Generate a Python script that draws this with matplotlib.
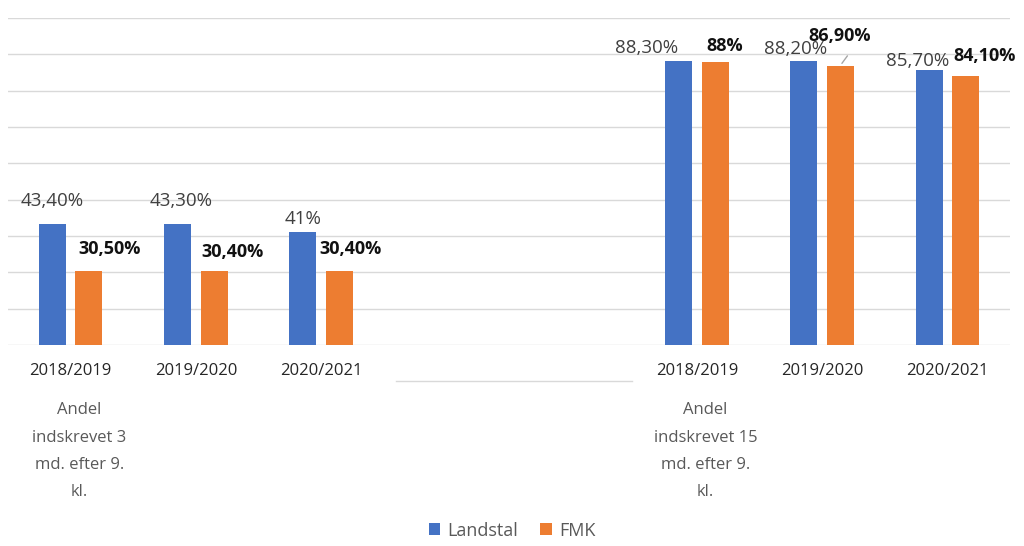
import matplotlib
matplotlib.use("Agg")
import matplotlib.pyplot as plt
import numpy as np

# ---- data ----
years = ["2018/2019", "2019/2020", "2020/2021"]
group_labels = ["Andel\nindskrevet 3\nmd. efter 9.\nkl.",
                "Andel\nindskrevet 15\nmd. efter 9.\nkl."]
landstal_3md = [43.4, 43.3, 41.0]
fmk_3md = [30.5, 30.4, 30.4]
landstal_15md = [88.3, 88.2, 85.7]
fmk_15md = [88.0, 86.9, 84.1]
series_names = ["Landstal", "FMK"]

# ---- style ----
BLUE = "#4472C4"
ORANGE = "#ED7D31"
GRID = "#D9D9D9"
plt.rcParams["font.family"] = ["Open Sans", "DejaVu Sans"]

def fmt(v):
    if abs(v - round(v)) < 1e-9:
        return f"{int(round(v))}%"
    return f"{v:.2f}".replace(".", ",") + "%"

fig = plt.figure(figsize=(10.24, 5.46), dpi=100)
ax = fig.add_axes([8/1024, 1 - 345/546, 1002/1024, 327/546])

ymin, ymax = 10, 100
gap = 2  # empty category slots between the two groups
pos1 = np.arange(len(years))
pos2 = np.arange(len(years)) + len(years) + gap
positions = np.concatenate([pos1, pos2])
land = np.array(landstal_3md + landstal_15md)
fmk = np.array(fmk_3md + fmk_15md)

w = 0.215
off = 0.145
ax.bar(positions - off, land - ymin, w, bottom=ymin, color=BLUE, label=series_names[0], zorder=3)
ax.bar(positions + off, fmk - ymin, w, bottom=ymin, color=ORANGE, label=series_names[1], zorder=3)

ax.set_xlim(-0.5, len(years) * 2 + gap - 0.5)
ax.set_ylim(ymin, ymax)
ax.set_yticks(np.arange(ymin, ymax + 1, 10))
ax.grid(axis="y", color=GRID, linewidth=1, zorder=0)
ax.tick_params(axis="y", length=0, labelleft=False)
for s in ax.spines.values():
    s.set_visible(False)

ax.set_xticks(positions)
ax.set_xticklabels(years * 2, fontsize=12, color="#262626")
ax.tick_params(axis="x", length=0, pad=13)

# data labels (pixel offsets from bar top centre)
land_off = [(0, 23), (3, 23), (0, 13), (-32, 13), (-8, 12), (-12, 9)]
fmk_off = [(21, 22), (18, 19), (11, 22), (10, 16), (-1, 30), (19, 20)]
for i, (p, v) in enumerate(zip(positions, land)):
    dx, dy = land_off[i]
    ax.annotate(fmt(v), (p - off, v), xytext=(dx, dy), textcoords="offset pixels",
                ha="center", va="center", fontsize=13.5, color="#404040", zorder=5)
for i, (p, v) in enumerate(zip(positions, fmk)):
    dx, dy = fmk_off[i]
    ax.annotate(fmt(v), (p + off, v), xytext=(dx, dy), textcoords="offset pixels",
                ha="center", va="center", fontsize=13, color="#111111",
                fontweight="bold", zorder=5)
# leader line for the lifted label
ax.annotate("", xy=(pos2[1] + off, fmk[4]), xytext=(pos2[1] + off + 0.07, fmk[4] + 3.3),
            arrowprops=dict(arrowstyle="-", color="#A6A6A6", lw=1))

# group labels
for grp_pos, txt in zip([pos1[0], pos2[0]], group_labels):
    ax.text(grp_pos + 0.07, -0.175, txt, transform=ax.get_xaxis_transform(),
            ha="center", va="top", fontsize=12, color="#595959", linespacing=1.95)

# faint separator between the groups
ax.plot([pos1[-1] + 0.6, pos2[0] - 0.52], [-0.11, -0.11], transform=ax.get_xaxis_transform(),
        color="#D9D9D9", lw=1, clip_on=False)

leg = fig.legend(loc="lower center", bbox_to_anchor=(0.5, -0.018), ncol=2, frameon=False,
                 fontsize=13, handlelength=0.65, handleheight=0.65, columnspacing=1.2,
                 handletextpad=0.4)
for t in leg.get_texts():
    t.set_color("#595959")

fig.savefig("out.png", dpi=100)
